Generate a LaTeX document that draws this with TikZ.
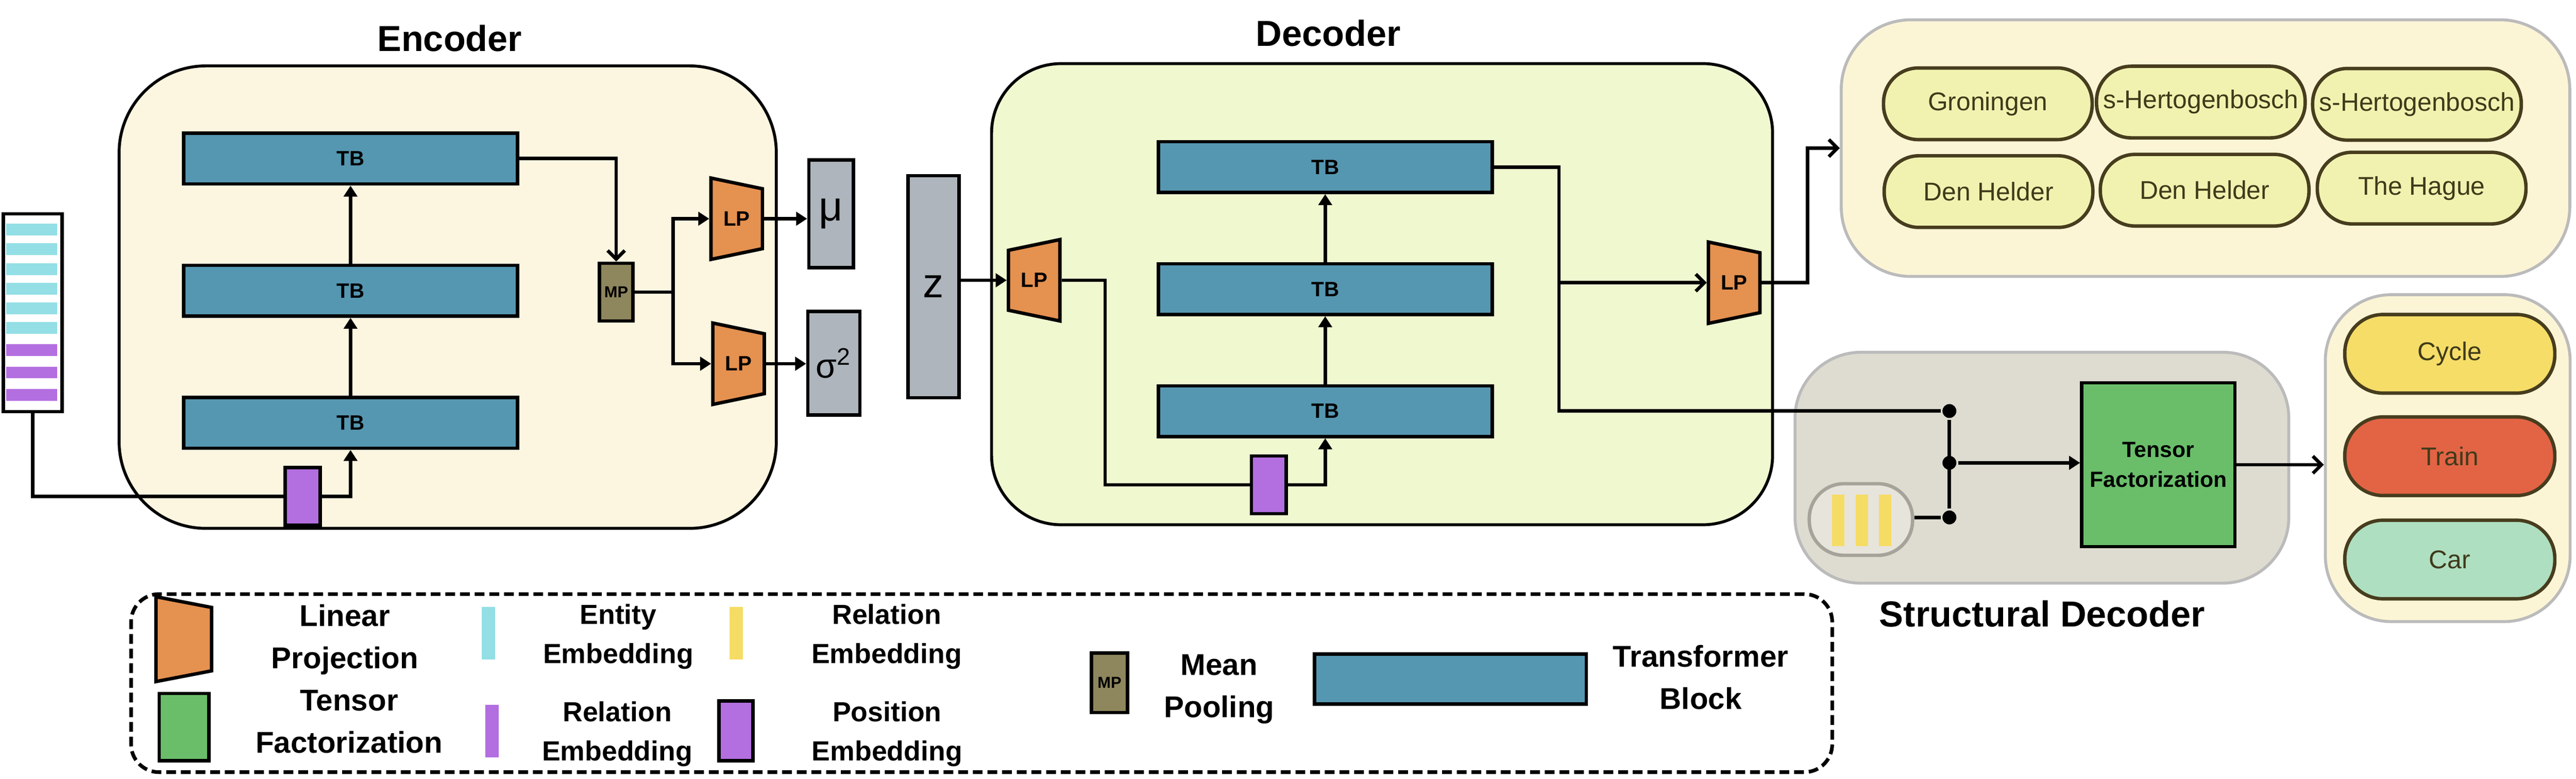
\documentclass[tikz,border=0pt]{standalone}
\usepackage{fontspec}
\setmainfont{Liberation Sans}
\usetikzlibrary{arrows.meta,shapes.geometric,calc,positioning}

\definecolor{tbblue}{HTML}{5597B1}
\definecolor{lporange}{HTML}{E59150}
\definecolor{mpolive}{HTML}{8E865D}
\definecolor{statgray}{HTML}{AEB5BC}
\definecolor{embpurple}{HTML}{B36EE0}
\definecolor{entcyan}{HTML}{93DFE5}
\definecolor{relyellow}{HTML}{F5DC65}
\definecolor{tfgreen}{HTML}{6ABE6A}
\definecolor{encfill}{HTML}{FCF6E0}
\definecolor{decfill}{HTML}{F0F8D0}
\definecolor{sdfill}{HTML}{DEDCD0}
\definecolor{outfill}{HTML}{FBF5D6}
\definecolor{framegray}{HTML}{BBBBBB}
\definecolor{cityfill}{HTML}{F1F2B0}
\definecolor{pillline}{HTML}{473D1E}
\definecolor{pilltext}{HTML}{3F3A1A}
\definecolor{cyclefill}{HTML}{F5DD68}
\definecolor{trainfill}{HTML}{E26445}
\definecolor{carfill}{HTML}{AEDFC0}
\definecolor{rpfill}{HTML}{E7E4DC}
\definecolor{rpline}{HTML}{A6A39B}

\begin{document}
\begin{tikzpicture}[>={Triangle[length=4.5pt,width=5.5pt]}, line width=1.4pt, node distance=1.9cm,
    openarr/.style={-{Straight Barb[length=3.5pt,width=7pt]}},
    panel/.style={draw, line width=1.2pt, rounded corners=#1},
    tb/.style={draw, fill=tbblue, minimum width=4.8cm, minimum height=0.73cm, font=\bfseries\fontsize{8.5}{10}\selectfont},
    lp/.style={trapezium, trapezium angle=68, trapezium stretches body, draw, fill=lporange, inner sep=0pt,
               minimum width=1.17cm, minimum height=0.74cm, font=\bfseries\fontsize{8.5}{10}\selectfont},
    lpin/.style={lp, shape border rotate=270},
    lpout/.style={lp, shape border rotate=90},
    statbox/.style={draw, fill=statgray, minimum width=0.64cm},
    posemb/.style={draw, fill=embpurple, minimum width=0.5cm, minimum height=0.83cm},
    mpbox/.style={draw, fill=mpolive, minimum width=0.48cm, minimum height=0.83cm, inner sep=0pt, font=\bfseries\fontsize{6.5}{8}\selectfont},
    seqbar/.style={fill=#1, minimum width=0.735cm, minimum height=0.17cm, inner sep=0pt},
    flatbar/.style={fill=#1, minimum width=0.19cm, minimum height=0.76cm, inner sep=0pt},
    city/.style={draw=pillline, fill=cityfill, rounded corners=0.5cm, minimum width=3cm, minimum height=1.03cm,
                 inner sep=1pt, text=pilltext, font=\fontsize{10.5}{12}\selectfont},
    modepill/.style={draw=pillline, fill=#1, rounded corners=0.55cm, minimum width=3.02cm, minimum height=1.13cm,
                 text=pilltext, font=\fontsize{10.5}{12}\selectfont},
    jdot/.style={circle, fill, inner sep=0pt, minimum size=0.2cm},
    heading/.style={anchor=base, font=\bfseries\fontsize{14.8}{18}\selectfont},
    keytext/.style={anchor=base, align=center, font=\bfseries\fontsize{12.3}{17.3}\selectfont},
    embtext/.style={anchor=base, align=center, font=\bfseries\fontsize{11.3}{16}\selectfont}]

    \useasboundingbox (0,0) rectangle (37.04,11.2);

    % panels
    \node[panel=1.25cm, fill=encfill, minimum width=9.45cm, minimum height=6.65cm]     (enc)     at (6.4375,6.9275)  {};
    \node[panel=1cm, fill=decfill, minimum width=11.23cm, minimum height=6.63cm]       (dec)     at (19.8725,6.97)   {};
    \node[panel=1cm, draw=framegray, fill=outfill, minimum width=10.475cm, minimum height=3.69cm] (cities) at (31.7125,9.07) {};
    \node[panel=0.95cm, draw=framegray, fill=sdfill, minimum width=7.1cm, minimum height=3.32cm] (sdec)  at (29.36,4.475) {};
    \node[panel=0.95cm, draw=framegray, fill=outfill, minimum width=3.52cm, minimum height=4.7cm] (modes) at (35.195,4.6125) {};
    \node[panel=0.4cm, line width=1.5pt, dash pattern=on 4pt off 2pt, minimum width=24.46cm, minimum height=2.56cm] (legend) at (14.115,1.3775) {};

    \node[heading] (enct)  at (6.465,10.46)  {Encoder};
    \node[heading] (dect)  at (19.1,10.535)  {Decoder};
    \node[heading] (sdect) at (29.365,2.185) {Structural Decoder};

    % input sequence
    \node[draw, fill=white, minimum width=0.845cm, minimum height=2.845cm] (seq) at (0.4725,6.7025) {};
    \foreach \i in {0,...,5}
        \node[seqbar=entcyan] (ent\i) at (0.4575,7.8975-0.2825*\i) {};
    \foreach \i in {0,1,2}
        \node[seqbar=embpurple] (rel\i) at (0.4575,6.1675-0.3237*\i) {};

    % encoder
    \node[posemb]                 (epos)   at (4.3525,4.0625)  {};
    \node[tb]                     (etb3)   at (5.04,5.12)      {TB};
    \node[tb]                     (etb2)   [above of=etb3]     {TB};
    \node[tb]                     (etb1)   [above of=etb2]     {TB};
    \node[mpbox]                  (mp)     at (8.86,7.0)       {MP};
    \node[lpin]                   (elp1)   at (10.5925,8.055)  {LP};
    \node[lpin]                   (elp2)   at (10.62,5.97)     {LP};
    \node[statbox, minimum height=1.55cm, font=\fontsize{17}{20}\selectfont]  (mu)  at (11.95,8.125)  {μ};
    \node[statbox, minimum height=1.485cm, font=\fontsize{14}{17}\selectfont] (sig) at (11.99,5.9775) {σ\textsuperscript{2}};
    \node[statbox, minimum width=0.735cm, minimum height=3.195cm, font=\fontsize{17}{20}\selectfont] (z) at (13.4225,7.0775) {z};

    % decoder
    \node[lpout]                  (dlp1)   at (14.87,7.17)     {LP};
    \node[posemb]                 (dpos)   at (18.2425,4.23)   {};
    \node[tb]                     (dtb3)   at (19.055,5.2875)  {TB};
    \node[tb]                     (dtb2)   [above of=dtb3, node distance=1.755cm] {TB};
    \node[tb]                     (dtb1)   [above of=dtb2, node distance=1.755cm] {TB};
    \node[lpin]                   (dlp2)   at (24.935,7.135)   {LP};
    \coordinate                   (dsplit) at (22.415,5.29);

    % outputs
    \node[city] (c1) at (28.5825,9.7075) {Groningen};
    \node[city] (c2) at (31.645,9.7325)  {s-Hertogenbosch};
    \node[city] (c3) at (34.7525,9.7)    {s-Hertogenbosch};
    \node[city] (c4) at (28.5925,8.445)  {Den Helder};
    \node[city] (c5) at (31.7,8.465)     {Den Helder};
    \node[city] (c6) at (34.82,8.495)    {The Hague};

    \node[modepill=cyclefill] (cycle) at (35.225,6.1125) {Cycle};
    \node[modepill=trainfill] (train) at (35.225,4.64)   {Train};
    \node[modepill=carfill]   (car)   at (35.225,3.155)  {Car};

    % structural decoder
    \node[jdot] (dot1) at (28.03,5.29)  {};
    \node[jdot] (dot2) at (28.03,4.545) {};
    \node[jdot] (dot3) at (28.03,3.76)  {};
    \node[draw=rpline, fill=rpfill, rounded corners=0.5cm, minimum width=1.485cm, minimum height=1.03cm] (rpill) at (26.7575,3.73) {};
    \foreach \x [count=\k] in {26.43,26.77,27.1075}
        \node[fill=relyellow, minimum width=0.18cm, minimum height=0.745cm, inner sep=0pt] (rbar\k) at (\x,3.7175) {};
    \node[draw, fill=tfgreen, minimum width=2.14cm, minimum height=2.355cm, align=center,
          font=\bfseries\fontsize{9}{12.3}\selectfont] (tf) at (31.035,4.5175) {Tensor\\Factorization};

    % connectors
    \draw (seq.south) |- (epos.west);
    \draw[->] (epos.east) -| (etb3.south);
    \path[->] (etb3) edge (etb2)
              (etb2) edge (etb1);
    \draw[openarr] (etb1.east) -| (mp.north);
    \coordinate (esplit) at (9.68,7.0);
    \draw (mp.east) -- (esplit);
    \draw[->] (esplit) |- (elp1.west);
    \draw[->] (esplit) |- (elp2.west);
    \draw[->] (elp1.east) -- (elp1.east -| mu.west);
    \draw[->] (elp2.east) -- (elp2.east -| sig.west);
    \draw[->] (z.east |- dlp1.west) -- (dlp1.west);
    \draw (dlp1.east) -- ++(0.625,0) |- (dpos.west);
    \draw[->] (dpos.east) -| (dtb3.south);
    \path[->] (dtb3) edge (dtb2)
              (dtb2) edge (dtb1);
    \draw (dtb1.east) -| (dsplit) -- (dot1);
    \draw[openarr] (dsplit |- dlp2.west) -- (dlp2.west);
    \draw[openarr] (dlp2.east) -- ++(0.66,0) |- (cities.west);
    \draw (dot1) -- (dot3);
    \draw (rpill.east |- dot3) -- (dot3);
    \draw[->] (dot2) -- (dot2 -| tf.west);
    \draw[openarr] (tf.east) -- (tf.east -| modes.west);

    % legend
    \node[lpin, minimum width=1.22cm, minimum height=0.8cm] (klp) at (2.6425,2.01) {\phantom{LP}};
    \node[keytext] (klpt) at (4.96,1.59) {Linear\\Projection};
    \node[draw, fill=tfgreen, minimum width=0.715cm, minimum height=0.97cm] (ktf) at (2.6475,0.745) {};
    \node[keytext] (ktft) at (5.02,0.37) {Tensor\\Factorization};
    \node[flatbar=entcyan] (kent) at (7.025,2.095) {};
    \node[embtext] (kentt) at (8.89,1.665) {Entity\\Embedding};
    \node[flatbar=relyellow] (krel) at (10.585,2.095) {};
    \node[embtext] (krelt) at (12.75,1.665) {Relation\\Embedding};
    \node[flatbar=embpurple, minimum height=0.755cm] (kseq) at (7.075,0.6875) {};
    \node[embtext] (kseqt) at (8.875,0.265) {Relation\\Embedding};
    \node[posemb, minimum width=0.485cm, minimum height=0.86cm] (kpos) at (10.5825,0.69) {};
    \node[embtext] (kpost) at (12.755,0.265) {Position\\Embedding};
    \node[mpbox, minimum width=0.515cm, minimum height=0.855cm] (kmp) at (15.9525,1.3825) {MP};
    \node[keytext] (kmpt) at (17.53,0.885) {Mean\\Pooling};
    \node[tb, minimum width=3.91cm, minimum height=0.72cm] (ktb) at (20.855,1.435) {};
    \node[keytext] (ktbt) at (24.455,1.005) {Transformer\\Block};
\end{tikzpicture}
\end{document}
